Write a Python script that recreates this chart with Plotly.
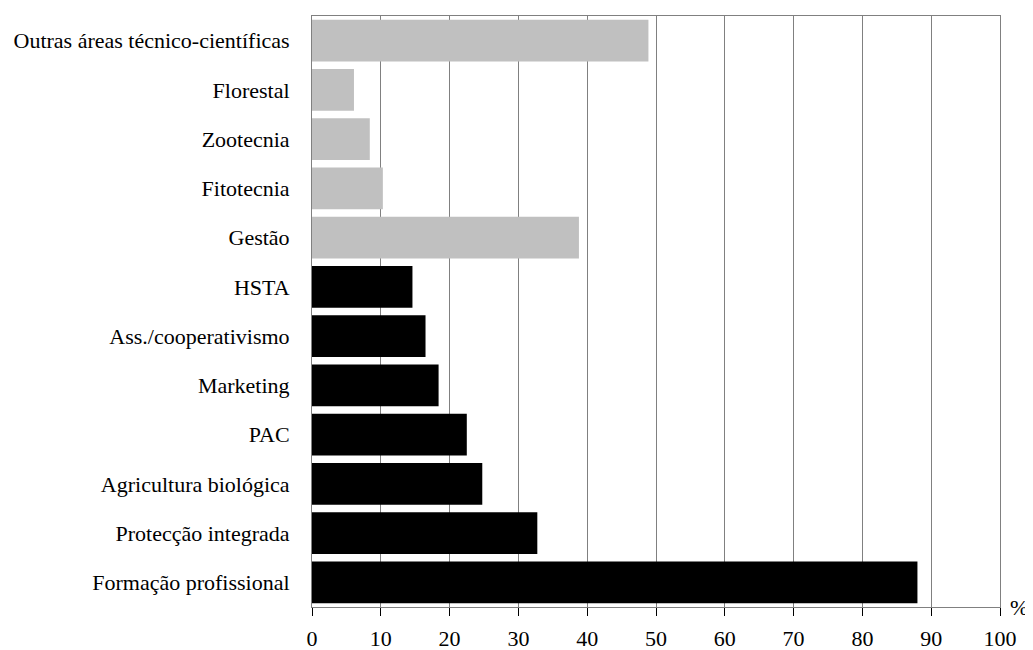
import plotly.graph_objects as go

categories = ["Outras áreas técnico-científicas", "Florestal", "Zootecnia", "Fitotecnia", "Gestão",
              "HSTA", "Ass./cooperativismo", "Marketing", "PAC", "Agricultura biológica",
              "Protecção integrada", "Formação profissional"]
values = [48.9, 6.1, 8.4, 10.3, 38.8, 14.6, 16.5, 18.4, 22.5, 24.75, 32.75, 88.0]
groups = ["grey"] * 5 + ["black"] * 7
color_map = {"grey": "#C0C0C0", "black": "#000000"}
x_ticks = [0, 10, 20, 30, 40, 50, 60, 70, 80, 90, 100]

fig = go.Figure()
fig.add_trace(go.Bar(
    y=categories, x=values, orientation="h",
    marker=dict(color=[color_map[g] for g in groups], line=dict(width=0)),
    hoverinfo="x+y",
))

font = "Liberation Serif"
fig.update_layout(
    width=1025, height=642,
    margin=dict(l=304, r=33, t=8, b=43, autoexpand=False),
    plot_bgcolor="white", paper_bgcolor="white",
    bargap=0.15, showlegend=False,
    font=dict(family=font, size=22, color="black"),
    xaxis=dict(range=[0, 100], tickvals=x_ticks, showgrid=True, gridcolor="#808080", gridwidth=1,
               zeroline=False, showline=True, linecolor="#808080", linewidth=1, mirror=True,
               ticks="outside", ticklen=8, tickcolor="#000000", ticklabelstandoff=4,
               automargin=False, tickfont=dict(size=22, family=font)),
    yaxis=dict(autorange="reversed", showgrid=False, zeroline=False, showline=True,
               linecolor="#808080", linewidth=1, mirror=True, ticks="", ticklabelstandoff=17,
               automargin=False, tickfont=dict(size=22, family=font)),
    annotations=[dict(text="%", xref="paper", yref="paper", x=1.0, y=0.0, xanchor="left",
                      yanchor="middle", xshift=8, showarrow=False, font=dict(size=22, family=font))],
)
fig.write_html("out.html")
